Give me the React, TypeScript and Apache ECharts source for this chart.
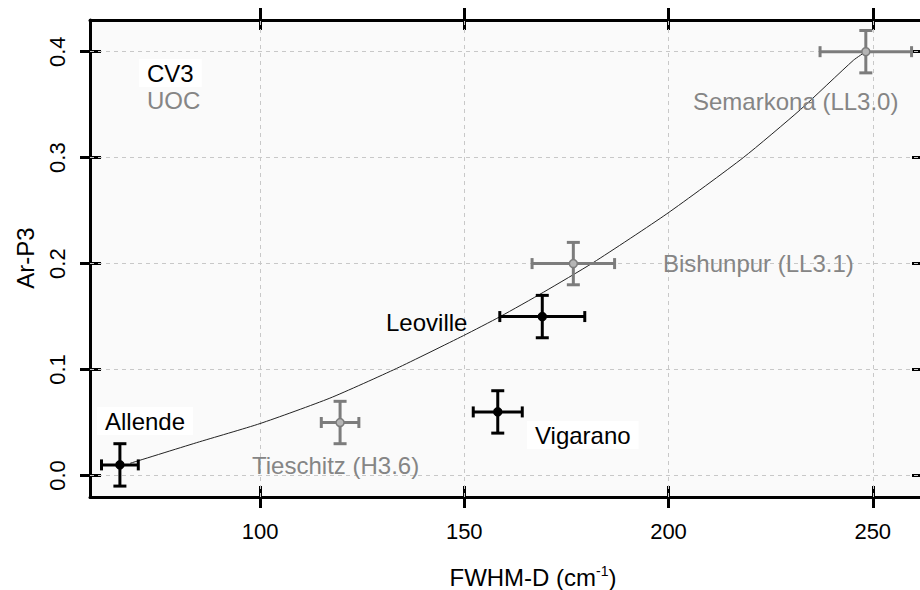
import React, { useEffect, useRef } from "react";
import * as echarts from "echarts";

// ---- data ----
const names = ["Allende", "Vigarano", "Leoville", "Tieschitz (H3.6)", "Bishunpur (LL3.1)", "Semarkona (LL3.0)"];
const groups = ["CV3", "CV3", "CV3", "UOC", "UOC", "UOC"];
const fwhmD = [65.7, 158.2, 169.1, 119.6, 176.7, 248.3];
const fwhmErr = [4.5, 6.0, 10.4, 4.6, 10.1, 11.2];
const arP3 = [0.01, 0.06, 0.15, 0.05, 0.2, 0.4];
const arP3Err = [0.02, 0.02, 0.02, 0.02, 0.02, 0.02];

const fitX = [68.2, 84.5, 100.0, 117.1, 133.4, 149.8, 158.8, 169.4, 181.6, 199.6, 218.3, 232.2, 245.3, 248.3];
const fitY = [0.0115, 0.031, 0.049, 0.073, 0.101, 0.132, 0.15, 0.173, 0.201, 0.247, 0.3, 0.345, 0.392, 0.4];

const xTicks = [100, 150, 200, 250];
const yTicks = [0, 0.1, 0.2, 0.3, 0.4];

const X_MIN = 58.38;
const X_MAX = 262.3;
const Y_MIN = -0.0203;
const Y_MAX = 0.4299;

const BLACK = "#000000";
const GRAY = "#7c7c7c";
const TEXT_GRAY = "#858585";
const FONT = "Liberation Sans, Arial, sans-serif";

function errorBarItem(color: string, fill: string) {
  return (params: any, api: any) => {
    const x = api.value(0);
    const y = api.value(1);
    const ex = api.value(2);
    const ey = api.value(3);
    const c = api.coord([x, y]);
    const l = api.coord([x - ex, y]);
    const r = api.coord([x + ex, y]);
    const t = api.coord([x, y + ey]);
    const b = api.coord([x, y - ey]);
    const st = { stroke: color, lineWidth: 3 };
    const capH = 5.5;
    const capW = 6.5;
    return {
      type: "group",
      children: [
        { type: "line", shape: { x1: l[0], y1: l[1], x2: r[0], y2: r[1] }, style: st },
        { type: "line", shape: { x1: t[0], y1: t[1], x2: b[0], y2: b[1] }, style: st },
        { type: "line", shape: { x1: l[0], y1: l[1] - capH, x2: l[0], y2: l[1] + capH }, style: st },
        { type: "line", shape: { x1: r[0], y1: r[1] - capH, x2: r[0], y2: r[1] + capH }, style: st },
        { type: "line", shape: { x1: t[0] - capW, y1: t[1], x2: t[0] + capW, y2: t[1] }, style: st },
        { type: "line", shape: { x1: b[0] - capW, y1: b[1], x2: b[0] + capW, y2: b[1] }, style: st },
        { type: "circle", shape: { cx: c[0], cy: c[1], r: 4 }, style: { fill, stroke: color, lineWidth: 1.5 } },
      ],
    };
  };
}

function groupData(g: string) {
  const out: number[][] = [];
  for (let i = 0; i < names.length; i++) {
    if (groups[i] === g) out.push([fwhmD[i], arP3[i], fwhmErr[i], arP3Err[i]]);
  }
  return out;
}

function label(text: string, x: number, y: number, color: string, bg?: string) {
  return {
    type: "text",
    x,
    y,
    z: 100,
    style: {
      text,
      fill: color,
      fontSize: 24,
      fontFamily: FONT,
      align: "left",
      verticalAlign: "middle",
      backgroundColor: bg,
      padding: bg ? [2, 8, 2, 8] : 0,
    },
  };
}

export default function App() {
  const ref = useRef<HTMLDivElement>(null);
  useEffect(() => {
    if (!ref.current) return;
    const chart = echarts.init(ref.current, null, { renderer: "svg" });
    const gridRect = { left: 90, top: 20, width: 833, height: 477 };
    const axisLineStyle = { color: BLACK, width: 3 };
    const tickStyle = { color: BLACK, width: 3 };
    const baseX = { type: "value", min: X_MIN, max: X_MAX, splitLine: { show: false } };
    const baseY = { type: "value", min: Y_MIN, max: Y_MAX, splitLine: { show: false } };

    const option: any = {
      animation: false,
      backgroundColor: "#ffffff",
      grid: [
        { ...gridRect, show: true, backgroundColor: "#fafafa", borderWidth: 0, outerBoundsMode: "none", containLabel: false },
        { ...gridRect, show: false, outerBoundsMode: "none", containLabel: false },
      ],
      xAxis: [
        {
          ...baseX,
          gridIndex: 0,
          position: "bottom",
          axisLine: { show: true, onZero: false, lineStyle: axisLineStyle },
          axisTick: { show: true, inside: false, length: 11, lineStyle: tickStyle, customValues: xTicks },
          axisLabel: {
            show: true,
            customValues: xTicks,
            color: BLACK,
            fontSize: 22,
            fontFamily: FONT,
            margin: 23,
            formatter: (v: number) => String(v),
          },
        },
        {
          ...baseX,
          gridIndex: 0,
          position: "top",
          axisLine: { show: true, onZero: false, lineStyle: axisLineStyle },
          axisTick: { show: true, inside: false, length: 12, lineStyle: tickStyle, customValues: xTicks },
          axisLabel: { show: false },
        },
        {
          ...baseX,
          gridIndex: 1,
          position: "bottom",
          axisLine: { show: false, onZero: false },
          axisTick: { show: true, inside: true, length: 11, lineStyle: tickStyle, customValues: xTicks },
          axisLabel: { show: false },
        },
        {
          ...baseX,
          gridIndex: 1,
          position: "top",
          axisLine: { show: false, onZero: false },
          axisTick: { show: true, inside: true, length: 10, lineStyle: tickStyle, customValues: xTicks },
          axisLabel: { show: false },
        },
      ],
      yAxis: [
        {
          ...baseY,
          gridIndex: 0,
          position: "left",
          axisLine: { show: true, onZero: false, lineStyle: axisLineStyle },
          axisTick: { show: true, inside: false, length: 10, lineStyle: tickStyle, customValues: yTicks },
          axisLabel: {
            show: true,
            customValues: yTicks,
            rotate: 90,
            color: BLACK,
            fontSize: 22,
            fontFamily: FONT,
            margin: 22,
            formatter: (v: number) => v.toFixed(1),
          },
        },
        {
          ...baseY,
          gridIndex: 0,
          position: "right",
          axisLine: { show: true, onZero: false, lineStyle: axisLineStyle },
          axisTick: { show: true, inside: false, length: 10, lineStyle: tickStyle, customValues: yTicks },
          axisLabel: { show: false },
        },
        {
          ...baseY,
          gridIndex: 1,
          position: "left",
          axisLine: { show: false, onZero: false },
          axisTick: { show: true, inside: true, length: 11, lineStyle: tickStyle, customValues: yTicks },
          axisLabel: { show: false },
        },
        {
          ...baseY,
          gridIndex: 1,
          position: "right",
          axisLine: { show: false, onZero: false },
          axisTick: { show: true, inside: true, length: 11, lineStyle: tickStyle, customValues: yTicks },
          axisLabel: { show: false },
        },
      ],
      series: [
        {
          type: "scatter",
          xAxisIndex: 0,
          yAxisIndex: 0,
          data: [],
          z: 1,
          silent: true,
          markLine: {
            silent: true,
            z: 1,
            symbol: "none",
            animation: false,
            label: { show: false },
            lineStyle: { color: "#c8c8c8", width: 1, type: [4, 4] },
            data: [...xTicks.map((v) => ({ xAxis: v })), ...yTicks.map((v) => ({ yAxis: v }))],
          },
        },
        {
          type: "line",
          xAxisIndex: 0,
          yAxisIndex: 0,
          data: fitX.map((x, i) => [x, fitY[i]]),
          smooth: 0.2,
          showSymbol: false,
          symbol: "none",
          z: 3,
          lineStyle: { color: "#222222", width: 1 },
        },
        {
          type: "custom",
          name: "UOC",
          xAxisIndex: 0,
          yAxisIndex: 0,
          z: 4,
          data: groupData("UOC"),
          renderItem: errorBarItem(GRAY, "#b5b5b5"),
        },
        {
          type: "custom",
          name: "CV3",
          xAxisIndex: 0,
          yAxisIndex: 0,
          z: 5,
          data: groupData("CV3"),
          renderItem: errorBarItem(BLACK, BLACK),
        },
      ],
      graphic: [
        label("CV3", 139, 73, BLACK, "#ffffff"),
        label("UOC", 147, 100, TEXT_GRAY),
        label("Semarkona (LL3.0)", 693, 101, TEXT_GRAY),
        label("Bishunpur (LL3.1)", 663, 263, TEXT_GRAY),
        label("Leoville", 386, 322, BLACK),
        label("Allende", 97, 421, BLACK, "#ffffff"),
        label("Tieschitz (H3.6)", 252, 465, TEXT_GRAY),
        label("Vigarano", 527, 435, BLACK, "#ffffff"),
        {
          type: "text",
          x: 25,
          y: 258,
          rotation: Math.PI / 2,
          style: {
            text: "Ar-P3",
            fill: BLACK,
            fontSize: 24,
            fontFamily: FONT,
            align: "center",
            verticalAlign: "middle",
          },
        },
        {
          type: "text",
          x: 533,
          y: 577,
          style: {
            text: "{a|FWHM-D (cm}{s|-1}{a|)}",
            align: "center",
            verticalAlign: "middle",
            rich: {
              a: { fontSize: 24, fontFamily: FONT, fill: BLACK, color: BLACK },
              s: { fontSize: 14, fontFamily: FONT, fill: BLACK, color: BLACK, verticalAlign: "top", padding: [0, 0, 12, 0] },
            },
          },
        },
      ],
    };
    chart.setOption(option);
    return () => chart.dispose();
  }, []);
  return (
    <div
      ref={ref}
      style={{ position: "fixed", left: 0, top: 0, width: 920, height: 590 }}
    />
  );
}
